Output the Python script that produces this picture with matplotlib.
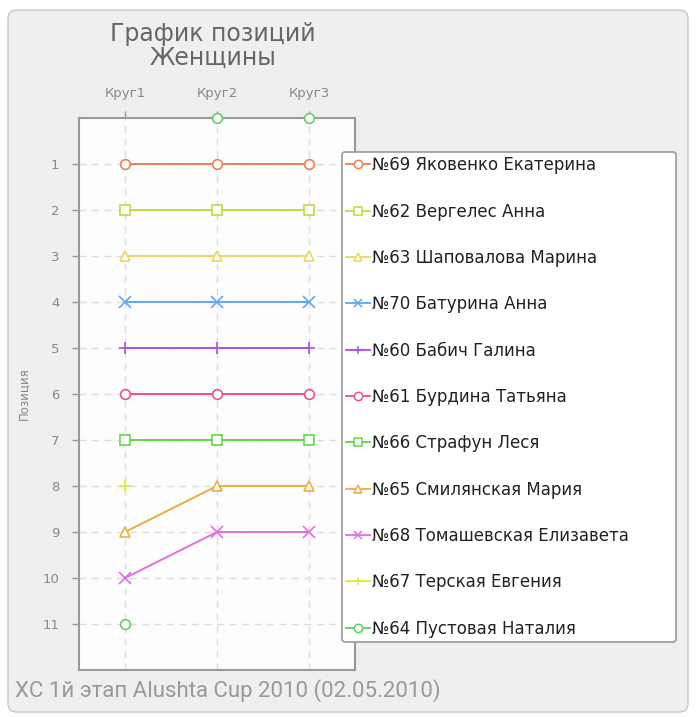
import numpy as np
import matplotlib
matplotlib.use("Agg")
import matplotlib.pyplot as plt
from matplotlib.patches import FancyBboxPatch

rounds = ["Круг1", "Круг2", "Круг3"]
names = ["№69 Яковенко Екатерина", "№62 Вергелес Анна", "№63 Шаповалова Марина",
         "№70 Батурина Анна", "№60 Бабич Галина", "№61 Бурдина Татьяна",
         "№66 Страфун Леся", "№65 Смилянская Мария", "№68 Томашевская Елизавета",
         "№67 Терская Евгения", "№64 Пустовая Наталия"]
s69 = [1, 1, 1]
s62 = [2, 2, 2]
s63 = [3, 3, 3]
s70 = [4, 4, 4]
s60 = [5, 5, 5]
s61 = [6, 6, 6]
s66 = [7, 7, 7]
s65 = [9, 8, 8]
s68 = [10, 9, 9]
s67 = [8, np.nan, np.nan]
s64 = [11, 0, 0]
series = [s69, s62, s63, s70, s60, s61, s66, s65, s68, s67, s64]
colors = ["#f08050", "#b8e040", "#e8d860", "#60a8f0", "#b050e8", "#f05080",
          "#60d848", "#e8b040", "#e070e0", "#d0f030", "#60d060"]
markers = ["o", "s", "^", "x", "+", "o", "s", "^", "x", "+", "o"]
yticks = list(range(1, 12))

plt.rcParams['font.family'] = ['DejaVu Sans']
fig = plt.figure(figsize=(6.96, 7.17), dpi=100, facecolor="white")
bg = FancyBboxPatch((8/696, 1-712/717), 680/696, 702/717,
                    boxstyle="round,pad=0,rounding_size=0.012",
                    transform=fig.transFigure, facecolor="#efefef",
                    edgecolor="#c8c8c8", linewidth=1.0, zorder=-10)
fig.patches.append(bg)

ax = fig.add_axes([79/696, 1-670/717, 276/696, 552/717])
ax.set_facecolor("#fdfdfd")
x = np.arange(1, len(rounds)+1)
handles = []
for name, vals, c, m in zip(names, series, colors, markers):
    v = np.array(vals, dtype=float)
    line_v = np.where(v == 0, np.nan, v)
    ax.plot(x, line_v, color=c, lw=1.4, zorder=3)
    ms = 8 if m in ("x", "+") else 7
    ax.plot(x, v, linestyle="none", marker=m, markersize=ms,
            markerfacecolor="white" if m not in ("x", "+") else c,
            markeredgecolor=c, markeredgewidth=1.2, clip_on=False, zorder=5)
    h, = ax.plot([], [], color=c, lw=1.3, marker=m, markersize=6,
                 markerfacecolor="white" if m not in ("x", "+") else c,
                 markeredgecolor=c, markeredgewidth=1.1)
    handles.append(h)

ax.set_xlim(0.5, 3.5)
ax.set_ylim(12, 0)
ax.set_xticks(x)
ax.set_xticklabels(rounds)
ax.set_yticks(yticks)
ax.xaxis.tick_top()
ax.tick_params(axis="both", colors="#999999", labelcolor="#888888",
               labelsize=9.5, length=5, width=1, direction="out")
ax.tick_params(axis="x", pad=8)
ax.tick_params(axis="y", pad=9)
ax.grid(True, color="#dddddd", linestyle=(0, (5, 4)), lw=1, zorder=0)
for sp in ax.spines.values():
    sp.set_color("#9a9a9a")
    sp.set_linewidth(1.5)
ax.set_ylabel("Позиция", color="#888888", fontsize=8.5, labelpad=9)

leg = ax.legend(handles, names, loc="upper left",
                bbox_to_anchor=(342/696, 1-152/717, 334/696, 0.0),
                bbox_transform=fig.transFigure, mode="expand", borderaxespad=0,
                fontsize=12, handlelength=1.4, handletextpad=0.15,
                labelspacing=1.70, borderpad=0.26, fancybox=True, framealpha=1,
                edgecolor="#999999", facecolor="white")
leg.get_frame().set_linewidth(1.2)
for t in leg.get_texts():
    t.set_color("#222222")

fig.text(213/696, 1-46/717, "График позиций\nЖенщины", ha="center", va="center",
         fontsize=17, color="#666666", linespacing=1.0)
fig.text(15/696, 1-691/717, "XC 1й этап Alushta Cup 2010 (02.05.2010)",
         ha="left", va="center", fontsize=16, color="#999999",
         family=["Roboto", "DejaVu Sans"])

fig.savefig("out.png", dpi=100)
